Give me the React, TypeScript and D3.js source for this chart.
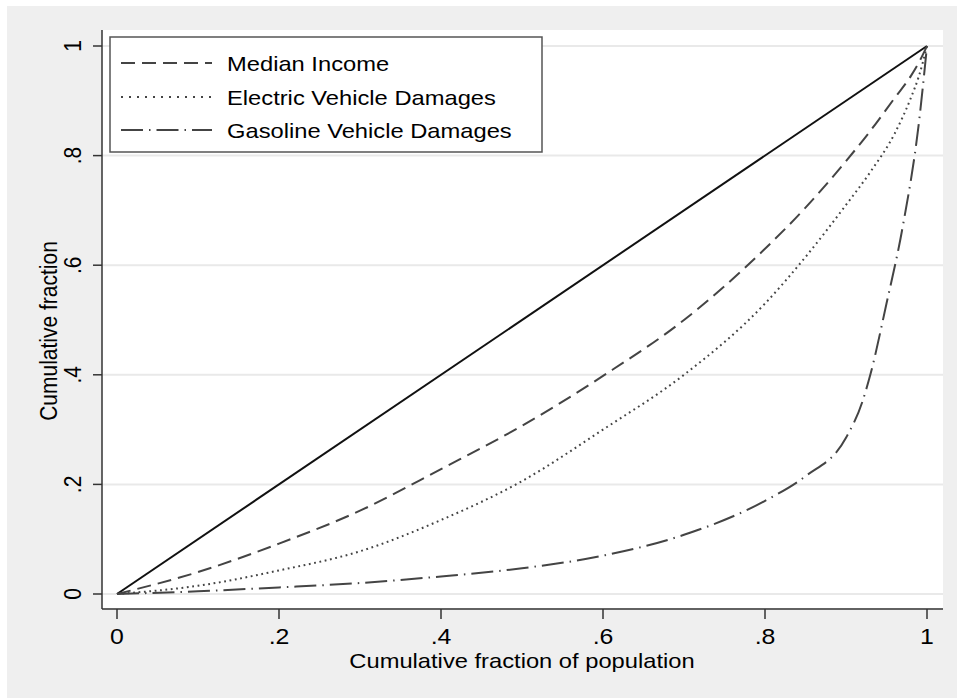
import React from "react";
import * as d3 from "d3";

const popShare = [0, 0.1, 0.2, 0.3, 0.4, 0.5, 0.6, 0.7, 0.8, 0.85, 0.9, 0.93, 0.96, 0.98, 0.99, 1];
const medianIncome = [0, 0.04, 0.092, 0.152, 0.228, 0.307, 0.398, 0.5, 0.63, 0.705, 0.79, 0.845, 0.905, 0.945, 0.97, 1];
const electricDamages = [0, 0.015, 0.043, 0.078, 0.135, 0.206, 0.3, 0.4, 0.53, 0.615, 0.71, 0.77, 0.84, 0.905, 0.945, 1];

const gasShare = [0, 0.1, 0.2, 0.3, 0.4, 0.5, 0.6, 0.7, 0.8, 0.85, 0.9, 0.92, 0.93, 0.95, 0.97, 0.99, 1];
const gasolineDamages = [0, 0.005, 0.012, 0.02, 0.032, 0.047, 0.07, 0.108, 0.17, 0.215, 0.285, 0.35, 0.4, 0.53, 0.67, 0.86, 1];

const equality = [0, 1];

const xTicks = [0, 0.2, 0.4, 0.6, 0.8, 1];
const yTicks = [0, 0.2, 0.4, 0.6, 0.8, 1];

const legendLabels = ["Median Income", "Electric Vehicle Damages", "Gasoline Vehicle Damages"];

const FONT = "'Liberation Sans', Arial, Helvetica, sans-serif";
const SX = 1.13;

function fmt(d: number) {
  if (d === 0) return "0";
  if (d === 1) return "1";
  return String(+d.toFixed(2)).replace(/^0\./, ".");
}

export default function App() {
  const W = 957, H = 698;
  const plotL = 102, plotR = 943, plotT = 30, plotB = 609;
  const x = d3.scaleLinear().domain([0, 1]).range([117, 927]);
  const y = d3.scaleLinear().domain([0, 1]).range([594, 46]);

  const line = d3
    .line<[number, number]>()
    .x((d) => x(d[0]))
    .y((d) => y(d[1]))
    .curve(d3.curveMonotoneX);

  const series = [
    { xs: popShare, ys: medianIncome, dash: "14,7", color: "#444", w: 2 },
    { xs: popShare, ys: electricDamages, dash: "1.8,3.6", color: "#444", w: 2 },
    { xs: gasShare, ys: gasolineDamages, dash: "22,6,1.5,6", color: "#444", w: 2 },
  ];

  const legendX = 110, legendY = 37, legendW = 432, legendH = 115;
  const rowY = [63, 97, 130];

  return (
    <svg
      width={W}
      height={H}
      style={{ position: "absolute", left: 0, top: 0, background: "#fff" }}
      fontFamily={FONT}
    >
      <rect x={7} y={6} width={W - 7} height={H - 6} fill="#efefef" />
      <rect x={plotL} y={plotT} width={plotR - plotL} height={plotB - plotT - 1} fill="#fff" />
      {yTicks.map((t) => (
        <line key={"g" + t} x1={plotL} x2={plotR} y1={y(t)} y2={y(t)} stroke="#e9e9e9" strokeWidth={2} />
      ))}
      {/* axes */}
      <line x1={plotL} x2={plotL} y1={plotT} y2={plotB} stroke="#333" strokeWidth={1.5} />
      <line x1={plotL} x2={plotR} y1={plotB} y2={plotB} stroke="#333" strokeWidth={1.5} />
      {yTicks.map((t) => (
        <g key={"yt" + t}>
          <line x1={93} x2={plotL} y1={y(t)} y2={y(t)} stroke="#333" strokeWidth={1.5} />
          <text
            transform={`translate(81,${y(t)}) scale(${SX},1) rotate(-90)`}
            textAnchor="middle"
            fontSize={21}
            fill="#000"
          >
            {fmt(t)}
          </text>
        </g>
      ))}
      {xTicks.map((t) => (
        <g key={"xt" + t}>
          <line x1={x(t)} x2={x(t)} y1={plotB} y2={619} stroke="#333" strokeWidth={1.5} />
          <text
            transform={`translate(${x(t)},644) scale(${SX},1)`}
            textAnchor="middle"
            fontSize={22}
            fill="#000"
          >
            {fmt(t)}
          </text>
        </g>
      ))}
      <text transform={`translate(522,668) scale(${SX},1)`} textAnchor="middle" fontSize={21} fill="#000">
        Cumulative fraction of population
      </text>
      <text transform={`translate(57,331) scale(${SX},1) rotate(-90)`} textAnchor="middle" fontSize={21} fill="#000">
        Cumulative fraction
      </text>
      {/* lines */}
      <path
        d={line(equality.map((v) => [v, v]) as [number, number][]) || ""}
        fill="none"
        stroke="#111"
        strokeWidth={2}
      />
      {series.map((s, i) => (
        <path
          key={i}
          d={line(s.xs.map((v, j) => [v, s.ys[j]]) as [number, number][]) || ""}
          fill="none"
          stroke={s.color}
          strokeWidth={s.w}
          strokeDasharray={s.dash}
        />
      ))}
      {/* legend */}
      <rect x={legendX} y={legendY} width={legendW} height={legendH} fill="#fff" stroke="#555" strokeWidth={1.5} />
      {legendLabels.map((lab, i) => (
        <g key={lab}>
          <line
            x1={121}
            x2={212}
            y1={rowY[i]}
            y2={rowY[i]}
            stroke={series[i].color}
            strokeWidth={2}
            strokeDasharray={i === 1 ? "2,6" : series[i].dash}
          />
          <text transform={`translate(227,${rowY[i] + 8}) scale(${SX},1)`} fontSize={21} fill="#000">
            {lab}
          </text>
        </g>
      ))}
    </svg>
  );
}
